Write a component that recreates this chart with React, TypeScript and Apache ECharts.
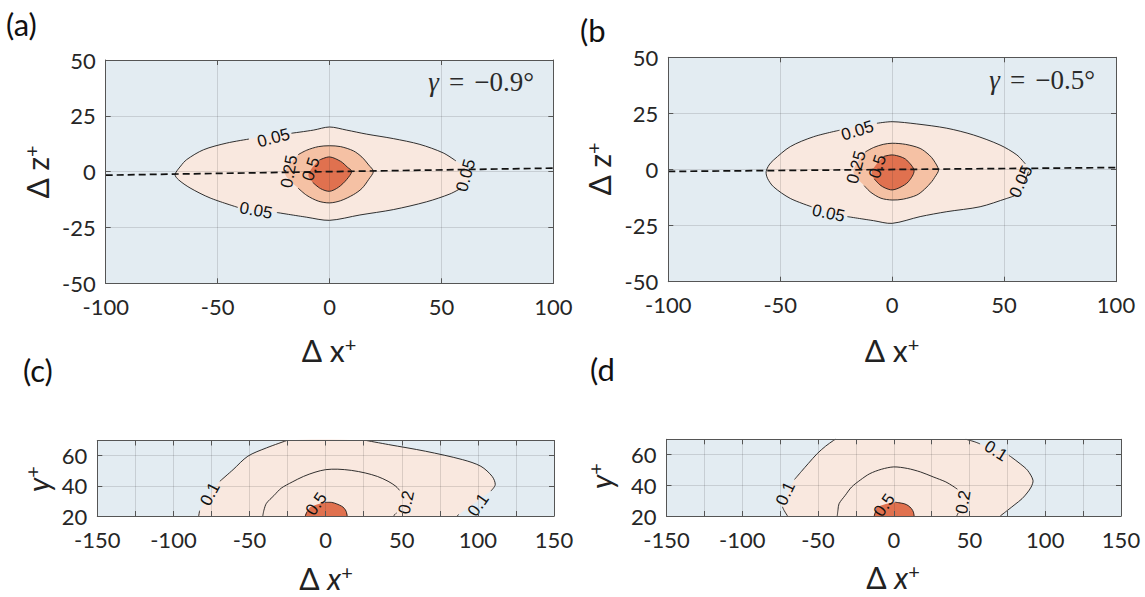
import React, { useEffect, useRef } from "react";
import * as echarts from "echarts";

type P = [number, number] | null;
type Lab = [string, number, number, number];

// ---------- axis ticks ----------
const topXTicks = [-100, -50, 0, 50, 100];
const topYTicks = [-50, -25, 0, 25, 50];
const botXTicks = [-150, -100, -50, 0, 50, 100, 150];
const botXGridStep = 25;
const botYTicks = [20, 40, 60];
const botYMax = 70;

// ---------- texts ----------
const panelNames = ["(a)", "(b", "(c)", "(d"];
const gammaValues = ["−0.9°", "−0.5°"];

// ---------- dashed mean-flow lines (panels a, b) ----------
const aDash: [number, number][] = [[-100, -1.57], [100, 1.57]];
const bDash: [number, number][] = [[-100, -0.87], [100, 0.87]];

// ---------- contour outlines (null = gap under a label) ----------
const aOuter: P[] = [
  [-17, 17.2], [-7.2, 18.6], [0, 20], [7.7, 18.6], [16.6, 16.8], [28.5, 14.8], [40.4, 12.2], [50.8, 8.4], [56.5, 4.8],
  null, [63.5, -0.6], null,
  [58.8, -7.4], [53.8, -10], [43.4, -13.5], [28.5, -17], [13.6, -19.4], [0, -21.8], [-10.2, -20.4], [-23.5, -18.3],
  null,
  [-41, -16], [-53.3, -11.8], [-62.3, -7.3], [-67.5, -3.6], [-69, -1.3], [-66.5, 2.5], [-63.8, 5.4], [-56.3, 9.8], [-45.9, 12.8], [-36, 14.6],
];
const aMid: P[] = [
  [-14, 7.6], [-10.2, 9.6], [-5, 11.2], [0, 11.6], [5, 11.2], [10.7, 9.3], [14.5, 6.5], [17.5, 3], [19.6, 0.1], [17.5, -3.5],
  [14.5, -7.5], [10.7, -10.3], [5, -13], [0, -14], [-5, -13.2], [-10.2, -10.6], [-14, -7.4], null, [-19.9, -0.6],
];
const aInner: P[] = [
  [-4.5, 5.2], [0, 6.6], [5, 4.6], [8, 2], [9.9, 0.1], [7.7, -3.5], [4, -7], [0, -8.8], [-4, -7.6], [-7.5, -4.8], null, [-9.4, -1.3],
];

const bOuter: P[] = [
  [-6.8, 20.6], [0, 21.3], [11, 20.3], [24.4, 18.4], [36.3, 15.4], [48.2, 10.9], [55.7, 6.5], [59.5, 2.5],
  null, [60.9, -1], [59, -6], null,
  [54.5, -11.8], [51.2, -12.9], [39.3, -16.6], [24.4, -18.8], [12.5, -21], [0, -24], [-8.3, -22.8], [-20, -21],
  null,
  [-36, -16.6], [-45.5, -12.9], [-53, -7.7], [-55.7, -3.9], [-56.3, -1], [-55, 2], [-53, 4.2], [-45.5, 10.2], [-35.1, 14.6], [-23.5, 17.5],
];
const bMid: P[] = [
  [-12, 7.8], [-8.3, 9.8], [-4, 11.2], [0, 11.7], [6, 11.2], [12.5, 9.4], [16.5, 6.5], [18.5, 4.2], [20.7, -0.2], [19, -3.5],
  [17.7, -5.4], [14.5, -8.8], [11, -11.4], [5, -13.2], [0, -13.6], [-5, -12.8], [-9.5, -10.2], [-12.5, -7.2], null, [-17.3, -1],
];
const bInner: P[] = [
  [-3.8, 5.8], [0, 6.5], [4, 5.6], [6.5, 4.2], [9.8, -0.5], [7.3, -5.4], [3.5, -8], [0, -9.1], [-3, -8.3], [-5.4, -6.9], [-8, -4.2], null, [-9.1, -1],
];

const cOuter: P[] = [
  [-83.4, 20], [-82.8, 23.5], null, [-69.5, 43], [-60.8, 50.7], [-51.1, 59.6], [-38.9, 65.1], [-25.5, 70],
  null,
  [26.7, 70], [41.3, 67.3], [65.6, 62.9], [90, 57.3], [102, 52.9], [109.4, 46.2], [111.4, 40.7], [108.5, 36.5],
  null, [87.5, 21], [86.3, 20],
];
const cMid: P[] = [
  [-41.3, 20], [-40.5, 24], [-38.9, 28.4], [-34, 33.5], [-29.2, 38.4], [-22, 42.5], [-14.6, 46.2], [-7, 49], [0, 50.7], [8, 51],
  [17, 50.2], [26, 48.5], [34, 46.2], [41, 43], [46.2, 39.6], [48.5, 37], null, [46.5, 22], [44.5, 20],
];
const cInner: P[] = [
  [-13.4, 20], [-12.2, 23], null, [-9.7, 26.2], null, [-0.5, 29], [4, 29], [7.3, 28], [10.5, 26.5], [12.2, 25.1], [13.5, 23], [14.1, 20],
];

const dOuter: P[] = [
  [-70.1, 20], [-72.3, 23.5], [-73.5, 26], null, [-65.5, 43.8], [-61, 49], [-56.5, 54.1], [-50.5, 60.7], [-45, 65.5], [-39.7, 69.3], [-38.5, 70],
  null,
  [47.6, 70], [53, 68.5], [57, 67], null, [76, 59.5], [77.5, 58.5], [83.5, 54], [88.3, 49.8], [91.9, 43.3], [90.7, 38.9],
  [88, 35], [84.7, 31.3], [80, 27.5], [75.1, 23.7], [70.3, 20],
];
const dMid: P[] = [
  [-37.3, 20], [-36.8, 24], [-36.1, 28], [-32, 33.5], [-27.8, 38.9], [-22, 43.5], [-15.8, 47.6], [-8, 50.5], [0, 52], [9, 51],
  [17.7, 48.7], [26, 45.5], [34.4, 42.2], [39, 39.5], [42, 37.5], null, [42.5, 22], [41.6, 20],
];
const dInner: P[] = [
  [-12.9, 20], [-12, 23], null, [-11, 25.9], null, [1, 29], [6.9, 28], [9.5, 26.8], [11.7, 24.8], [13, 22.5], [13.4, 20],
];

// ---------- contour labels: text, x, y, angle(deg) ----------
const aLabels: Lab[] = [
  ["0.05", -25, 15.1, 15], ["0.05", -32.8, -17.4, -10], ["0.05", 60.9, -1.7, 75], ["0.25", -18, 0.1, 80], ["0.5", -8.3, 1.2, 72],
];
const bLabels: Lab[] = [
  ["0.05", -15.5, 17.3, 17], ["0.05", -28.4, -19.5, -12], ["0.05", 57.6, -5.4, 65], ["0.25", -16, 1, 75], ["0.5", -6.5, 1.3, 72],
];
const cLabels: Lab[] = [
  ["0.1", -75.9, 34.6, 62], ["0.1", 100.3, 27.3, 55], ["0.2", 53, 29, 78], ["0.5", -6.1, 28, 55],
];
const dLabels: Lab[] = [
  ["0.1", -71.4, 34.6, 65], ["0.1", 67.5, 62.4, -32], ["0.2", 45.9, 29.1, 80], ["0.5", -6.2, 27, 55],
];

// ---------- styles ----------
const C_BG = "#e3ecf2";
const C1 = "#f9e8df";
const C2 = "#f5c1a4";
const C3 = "#e0714f";
const AX = "#555555";
const GRIDC = "rgba(38,38,38,0.15)";
const FONT = 'Lato, "Open Sans", sans-serif';
const SERIF = '"Liberation Serif", "DejaVu Serif", serif';
const SMOOTH = 0.3;

const grids = [
  { left: 105.7, top: 60, width: 447.6, height: 223.3 },
  { left: 668.3, top: 57.3, width: 447.7, height: 224.4 },
  { left: 97.3, top: 440.5, width: 456.7, height: 75.5 },
  { left: 666.5, top: 439.3, width: 454.5, height: 76.7 },
];

function xAxesFor(gi: number, ticks: number[], step: number, labelStep: number) {
  const common = { type: "value", gridIndex: gi, min: ticks[0], max: ticks[ticks.length - 1], interval: step, z: 5 };
  return [
    {
      ...common,
      position: "bottom",
      axisLine: { show: true, onZero: false, lineStyle: { color: AX, width: 1 } },
      axisTick: { show: true, inside: true, length: 5, lineStyle: { color: AX } },
      axisLabel: {
        show: true, fontSize: 22, fontFamily: FONT, color: "#262626", margin: 12,
        formatter: (v: number) => (Math.abs(v % labelStep) < 1e-9 ? String(v) : ""),
      },
      splitLine: { show: true, lineStyle: { color: GRIDC, width: 1 } },
    },
    {
      ...common,
      position: "top",
      axisLine: { show: true, onZero: false, lineStyle: { color: AX, width: 1 } },
      axisTick: { show: true, inside: true, length: 5, lineStyle: { color: AX } },
      axisLabel: { show: false },
      splitLine: { show: false },
    },
  ];
}

function yAxesFor(gi: number, min: number, max: number, step: number, hideMax: boolean) {
  const common = { type: "value", gridIndex: gi, min, max, interval: step, z: 5 };
  return [
    {
      ...common,
      position: "left",
      axisLine: { show: true, onZero: false, lineStyle: { color: AX, width: 1 } },
      axisTick: { show: true, inside: true, length: 5, lineStyle: { color: AX } },
      axisLabel: { show: true, fontSize: 22, fontFamily: FONT, color: "#262626", margin: 10, showMaxLabel: !hideMax },
      splitLine: { show: true, lineStyle: { color: GRIDC, width: 1 } },
    },
    {
      ...common,
      position: "right",
      axisLine: { show: true, onZero: false, lineStyle: { color: AX, width: 1 } },
      axisTick: { show: true, inside: true, length: 5, lineStyle: { color: AX } },
      axisLabel: { show: false },
      splitLine: { show: false },
    },
  ];
}

function contourSeries(gi: number, shapes: { pts: P[]; fill: string }[]) {
  return {
    type: "custom",
    xAxisIndex: gi * 2,
    yAxisIndex: gi * 2,
    z: 2,
    silent: true,
    data: shapes.map((_, i) => [0, 0, i]),
    renderItem: (params: any, api: any) => {
      const s = shapes[params.dataIndex];
      const fillPts = s.pts.filter((p) => p !== null).map((p) => api.coord(p as number[]));
      const children: any[] = [
        { type: "polygon", shape: { points: fillPts, smooth: SMOOTH }, style: { fill: s.fill, stroke: "none" } },
      ];
      let seg: number[][] = [];
      const segs: number[][][] = [];
      for (const p of s.pts) {
        if (p === null) {
          if (seg.length > 1) segs.push(seg);
          seg = [];
        } else seg.push(api.coord(p));
      }
      if (seg.length > 1) segs.push(seg);
      segs.forEach((sg) =>
        children.push({
          type: "polyline",
          shape: { points: sg, smooth: SMOOTH },
          style: { stroke: "#1a1a1a", lineWidth: 0.9, fill: "none" },
        })
      );
      return { type: "group", children };
    },
  };
}

function labelSeries(gi: number, labels: Lab[]) {
  return {
    type: "custom",
    xAxisIndex: gi * 2,
    yAxisIndex: gi * 2,
    z: 4,
    silent: true,
    data: labels.map((l) => [l[1], l[2]]),
    renderItem: (params: any, api: any) => {
      const L = labels[params.dataIndex];
      const pt = api.coord([L[1], L[2]]);
      return {
        type: "text",
        x: pt[0],
        y: pt[1],
        rotation: (L[3] * Math.PI) / 180,
        style: {
          text: L[0], fontSize: 17, fontFamily: '"Liberation Sans", Arial, sans-serif', fill: "#111",
          align: "center", verticalAlign: "middle",
        },
      };
    },
  };
}

function dashSeries(gi: number, data: [number, number][]) {
  return {
    type: "line",
    xAxisIndex: gi * 2,
    yAxisIndex: gi * 2,
    z: 3,
    silent: true,
    symbol: "none",
    data,
    lineStyle: { color: "#111", width: 1.7, type: [7, 4] },
  };
}

const richTitle = {
  m: { fontSize: 30, fontFamily: FONT, fill: "#222", lineHeight: 32 },
  i: { fontSize: 30, fontFamily: FONT, fill: "#222", lineHeight: 32, fontStyle: "italic" },
  s: { fontSize: 20, fontFamily: FONT, fill: "#222", lineHeight: 18, verticalAlign: "top" },
};

function titleText(x: number, y: number, text: string, rot: number) {
  return {
    type: "text",
    x,
    y,
    rotation: rot,
    style: { text, rich: richTitle, align: "center", verticalAlign: "middle" },
  };
}

export default function App() {
  const ref = useRef<HTMLDivElement>(null);
  useEffect(() => {
    document.body.style.margin = "0";
    if (!ref.current) return;
    const chart = echarts.init(ref.current, null, { renderer: "svg" });
    const titlePos = [[6, 24], [580, 30], [23, 370], [590, 369]];
    const gammaPos = [[534, 82], [1095, 80]];
    const option: any = {
      animation: false,
      grid: grids.map((g) => ({ ...g, show: true, backgroundColor: C_BG, borderWidth: 0, containLabel: false })),
      xAxis: [
        ...xAxesFor(0, topXTicks, topXTicks[1] - topXTicks[0], topXTicks[1] - topXTicks[0]),
        ...xAxesFor(1, topXTicks, topXTicks[1] - topXTicks[0], topXTicks[1] - topXTicks[0]),
        ...xAxesFor(2, botXTicks, botXGridStep, botXTicks[1] - botXTicks[0]),
        ...xAxesFor(3, botXTicks, botXGridStep, botXTicks[1] - botXTicks[0]),
      ],
      yAxis: [
        ...yAxesFor(0, topYTicks[0], topYTicks[topYTicks.length - 1], topYTicks[1] - topYTicks[0], false),
        ...yAxesFor(1, topYTicks[0], topYTicks[topYTicks.length - 1], topYTicks[1] - topYTicks[0], false),
        ...yAxesFor(2, botYTicks[0], botYMax, botYTicks[1] - botYTicks[0], true),
        ...yAxesFor(3, botYTicks[0], botYMax, botYTicks[1] - botYTicks[0], true),
      ],
      series: [
        contourSeries(0, [{ pts: aOuter, fill: C1 }, { pts: aMid, fill: C2 }, { pts: aInner, fill: C3 }]),
        dashSeries(0, aDash),
        labelSeries(0, aLabels),
        contourSeries(1, [{ pts: bOuter, fill: C1 }, { pts: bMid, fill: C2 }, { pts: bInner, fill: C3 }]),
        dashSeries(1, bDash),
        labelSeries(1, bLabels),
        contourSeries(2, [{ pts: cOuter, fill: C1 }, { pts: cMid, fill: C1 }, { pts: cInner, fill: C3 }]),
        labelSeries(2, cLabels),
        contourSeries(3, [{ pts: dOuter, fill: C1 }, { pts: dMid, fill: C1 }, { pts: dInner, fill: C3 }]),
        labelSeries(3, dLabels),
      ],
      graphic: [
        ...panelNames.map((t, i) => ({
          type: "text",
          x: titlePos[i][0],
          y: titlePos[i][1],
          style: { text: t, fontSize: 31, fontFamily: FONT, fill: "#111", verticalAlign: "middle" },
        })),
        ...gammaValues.map((g, i) => ({
          type: "text",
          x: gammaPos[i][0],
          y: gammaPos[i][1],
          style: {
            text: "{g|γ}{e|=}{t|" + g + "}",
            align: "right",
            verticalAlign: "middle",
            rich: {
              g: { fontFamily: SERIF, fontStyle: "italic", fontSize: 27, fill: "#2a2a2a" },
              e: { fontFamily: SERIF, fontSize: 27, fill: "#2a2a2a", padding: [0, 10, 0, 10] },
              t: { fontFamily: SERIF, fontSize: 27, fill: "#2a2a2a" },
            },
          },
        })),
        titleText(329, 350, "{m|Δ x}{s|+}", 0),
        titleText(892, 350, "{m|Δ x}{s|+}", 0),
        titleText(326, 578, "{m|Δ }{i|x}{s|+}", 0),
        titleText(893, 577, "{m|Δ }{i|x}{s|+}", 0),
        titleText(37, 172, "{m|Δ z}{s|+}", Math.PI / 2),
        titleText(599, 169, "{m|Δ z}{s|+}", Math.PI / 2),
        titleText(38, 479, "{i|y}{s|+}", Math.PI / 2),
        titleText(601, 476, "{i|y}{s|+}", Math.PI / 2),
      ],
    };
    chart.setOption(option);
    return () => chart.dispose();
  }, []);
  return <div ref={ref} style={{ width: 1145, height: 597 }} />;
}
